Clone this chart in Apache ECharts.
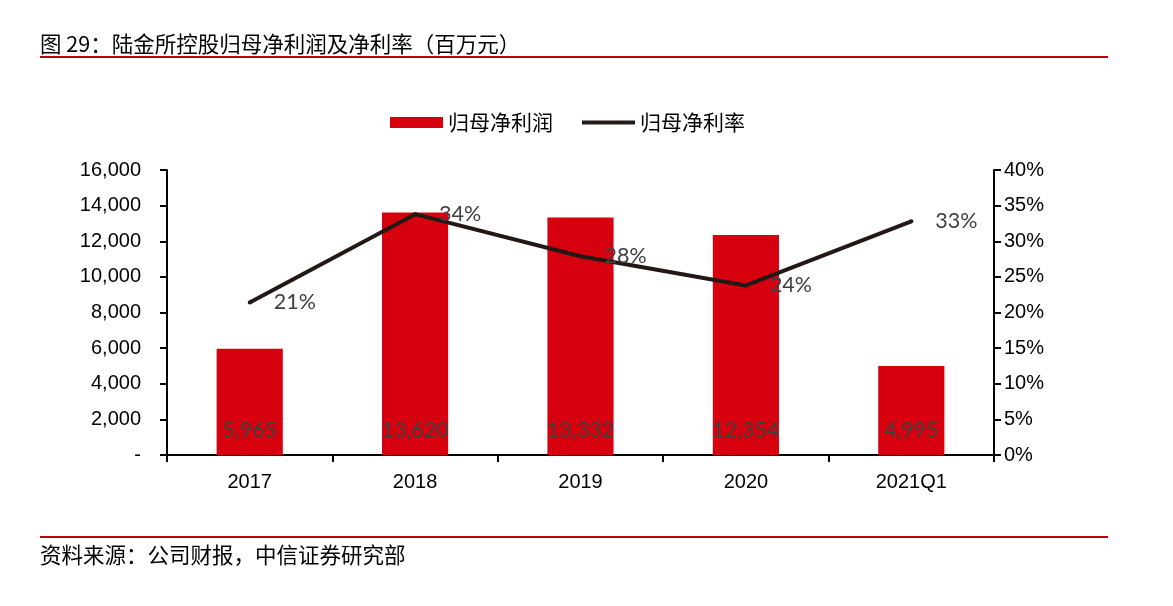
<!DOCTYPE html>
<html>
<head>
<meta charset="utf-8">
<script src="https://cdn.jsdelivr.net/npm/echarts@6/dist/echarts.min.js"></script>
<style>
  html, body { margin: 0; padding: 0; background: #fff; }
  #main { width: 1173px; height: 606px; }
</style>
</head>
<body>
<div id="main"></div>
<script>
// 数据
const categories = ['2017', '2018', '2019', '2020', '2021Q1'];
const profitValues = [5965, 13620, 13332, 12354, 4995];
const marginValues = [21.4, 33.8, 27.9, 23.8, 32.8];

const chart = echarts.init(document.getElementById('main'));

const cnFont = '"Noto Sans CJK SC", sans-serif';
const numFont = 'Arial, "Liberation Sans", sans-serif';
const lblFont = 'Lato, "Open Sans", sans-serif';

const option = {
  backgroundColor: '#fff',
  animation: false,
  graphic: [
    { type: 'text', left: 40, top: 33,
      style: { text: '图 29：陆金所控股归母净利润及净利率（百万元）', font: '21.5px ' + cnFont, fill: '#000' } },
    { type: 'rect', shape: { x: 40, y: 56, width: 1068, height: 2 }, style: { fill: '#C00000' } },
    { type: 'rect', shape: { x: 40, y: 536, width: 1068, height: 2 }, style: { fill: '#C00000' } },
    { type: 'text', left: 40, top: 544,
      style: { text: '资料来源：公司财报，中信证券研究部', font: '21.5px ' + cnFont, fill: '#000' } }
  ],
  legend: {
    top: 107,
    left: 385,
    itemWidth: 53,
    itemHeight: 11,
    itemGap: 27,
    textStyle: { fontFamily: cnFont, fontSize: 21, color: '#000' },
    data: [
      { name: '归母净利润', icon: 'rect' },
      { name: '归母净利率', itemStyle: { opacity: 0 }, lineStyle: { width: 4, color: '#231815' } }
    ]
  },
  grid: { left: 167, right: 179, top: 170, bottom: 151 },
  xAxis: {
    type: 'category',
    data: categories,
    axisLine: { lineStyle: { color: '#000', width: 2 } },
    axisTick: { show: true, length: 7, lineStyle: { color: '#000', width: 2 } },
    axisLabel: { color: '#000', fontFamily: numFont, fontSize: 20, margin: 17 }
  },
  yAxis: [
    {
      type: 'value',
      min: 0, max: 16000, interval: 2000,
      splitLine: { show: false },
      axisLine: { show: true, lineStyle: { color: '#000', width: 2 } },
      axisTick: { show: true, length: 7, lineStyle: { color: '#000', width: 2 } },
      axisLabel: {
        color: '#000', fontFamily: numFont, fontSize: 20, margin: 26,
        formatter: v => v === 0 ? '-' : v.toLocaleString('en-US')
      }
    },
    {
      type: 'value',
      min: 0, max: 40, interval: 5,
      splitLine: { show: false },
      axisLine: { show: true, lineStyle: { color: '#000', width: 2 } },
      axisTick: { show: true, length: 7, lineStyle: { color: '#000', width: 2 } },
      axisLabel: { color: '#000', fontFamily: numFont, fontSize: 20, margin: 10, formatter: '{value}%' }
    }
  ],
  series: [
    {
      name: '归母净利润',
      type: 'bar',
      data: profitValues,
      barWidth: '40%',
      itemStyle: { color: '#D7000F' },
      label: {
        show: true,
        position: 'insideBottom',
        distance: 14,
        color: '#404040',
        fontFamily: lblFont,
        fontSize: 21.5,
        formatter: p => p.value.toLocaleString('en-US')
      }
    },
    {
      name: '归母净利率',
      type: 'line',
      yAxisIndex: 1,
      data: marginValues,
      symbol: 'circle',
      symbolSize: 4,
      lineStyle: { color: '#231815', width: 4 },
      itemStyle: { color: '#231815' },
      label: {
        show: true,
        position: 'right',
        distance: 22,
        color: '#404040',
        fontFamily: lblFont,
        fontSize: 21.5,
        formatter: p => Math.round(p.value) + '%'
      }
    }
  ]
};

chart.setOption(option);
</script>
</body>
</html>
